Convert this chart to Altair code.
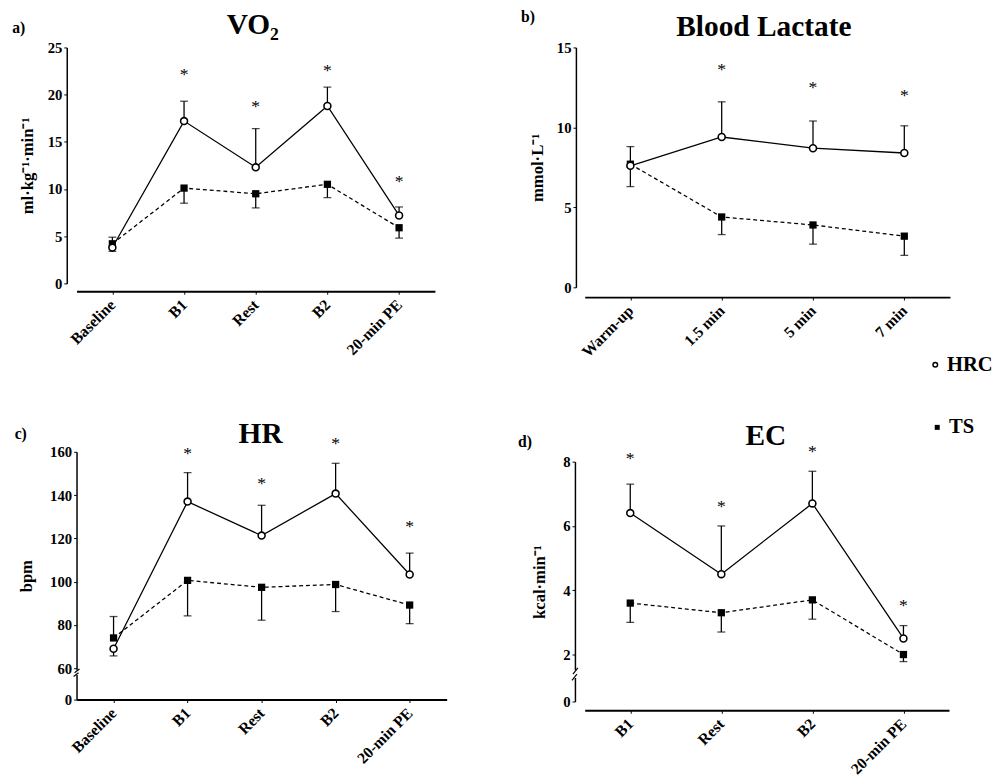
import altair as alt
import pandas as pd

SERIF = "Liberation Serif"

# ---------------- data ----------------
a_cats = ["Baseline", "B1", "Rest", "B2", "20-min PE"]
a_hrc = [3.8, 17.2, 12.3, 18.8, 7.2]
a_hrc_err = [3.4, 19.3, 16.4, 20.8, 8.1]
a_ts = [4.2, 10.1, 9.5, 10.5, 5.9]
a_ts_err = [4.9, 8.5, 8.0, 9.1, 4.8]
a_star_cats = ["B1", "Rest", "B2", "20-min PE"]
a_stars = [22.4, 19.0, 22.9, 11.1]

b_cats = ["Warm-up", "1.5 min", "5 min", "7 min"]
b_hrc = [7.6, 9.4, 8.7, 8.4]
b_hrc_err = [8.8, 11.6, 10.4, 10.1]
b_ts = [7.7, 4.4, 3.9, 3.2]
b_ts_err = [6.3, 3.3, 2.7, 2.0]
b_star_cats = ["1.5 min", "5 min", "7 min"]
b_stars = [13.8, 12.7, 12.2]

c_cats = ["Baseline", "B1", "Rest", "B2", "20-min PE"]
c_hrc = [69.0, 137.0, 121.3, 140.7, 103.3]
c_hrc_err = [65.7, 150.4, 135.3, 154.7, 113.2]
c_ts = [74.0, 100.6, 97.4, 98.7, 89.2]
c_ts_err = [83.9, 84.2, 82.2, 86.2, 80.6]
c_star_cats = ["B1", "Rest", "B2", "20-min PE"]
c_stars = [160.5, 146.5, 165.3, 127.0]

d_cats = ["B1", "Rest", "B2", "20-min PE"]
d_hrc = [6.4, 4.5, 6.7, 2.5]
d_hrc_err = [7.3, 6.0, 7.7, 2.9]
d_ts = [3.6, 3.3, 3.7, 2.0]
d_ts_err = [3.0, 2.7, 3.1, 1.7]
d_star_cats = ["B1", "Rest", "B2", "20-min PE"]
d_stars = [8.2, 6.7, 8.4, 3.6]

series_names = ["HRC", "TS"]


def make_panel(cats, hrc, hrc_err, ts, ts_err, star_cats, stars, title, title_xy,
               ytitle, ydomain, yrange, yvalues, w, h, xoff, yoff, tpad,
               tag, tag_xy, brk=None, legend=False):
    n = len(cats)
    df = pd.DataFrame({
        "cat": cats * 2,
        "series": [series_names[0]] * n + [series_names[1]] * n,
        "value": hrc + ts,
        "err": hrc_err + ts_err,
    })
    sdf = pd.DataFrame({"cat": star_cats, "star": stars})

    sk = dict(domain=ydomain, nice=False, zero=False)
    if yrange is not None:
        sk["range"] = yrange
    yscale = alt.Scale(**sk)
    yaxis = alt.Axis(title=ytitle, values=yvalues, offset=yoff, titlePadding=tpad,
                     domainWidth=1.5, tickSize=3, labelPadding=2, grid=False)
    xaxis = alt.Axis(title=None, labelAngle=-45, labelAlign="right",
                     labelBaseline="middle", offset=xoff, domainWidth=2,
                     tickSize=3, labelPadding=8, grid=False)
    X = alt.X("cat:N", sort=cats, scale=alt.Scale(type="point", padding=0.5), axis=xaxis)

    def Y(f):
        return alt.Y(f, type="quantitative", scale=yscale, axis=yaxis)

    base = alt.Chart(df)
    hrc_b = base.transform_filter(alt.datum.series == series_names[0])
    ts_b = base.transform_filter(alt.datum.series == series_names[1])

    txt = alt.Chart(pd.DataFrame({"t": [tag], "ti": [title]}))
    layers = [
        base.mark_rule(color="black", strokeWidth=1.3).encode(x=X, y=Y("value"), y2="err:Q"),
        base.mark_tick(color="black", orient="horizontal", size=8, thickness=1.3).encode(x=X, y=Y("err")),
        hrc_b.mark_line(color="black", strokeWidth=1.3).encode(x=X, y=Y("value")),
        ts_b.mark_line(color="black", strokeWidth=1.3, strokeDash=[4, 3]).encode(x=X, y=Y("value")),
        ts_b.mark_square(color="black", size=55, opacity=1).encode(x=X, y=Y("value")),
        hrc_b.mark_point(shape="circle", filled=True, fill="white", stroke="black",
                         strokeWidth=1.6, size=50, opacity=1).encode(x=X, y=Y("value")),
        alt.Chart(sdf).mark_text(text="*", font=SERIF, fontSize=18, baseline="alphabetic",
                                 dy=8.5, color="black").encode(x=X, y=Y("star")),
        txt.mark_text(font=SERIF, fontSize=16, fontWeight="bold", align="center",
                      baseline="top", color="black").encode(
            x=alt.value(tag_xy[0]), y=alt.value(tag_xy[1]), text="t:N"),
        txt.mark_text(font=SERIF, fontSize=30, fontWeight="bold", align="center",
                      baseline="alphabetic", color="black").encode(
            x=alt.value(title_xy[0]), y=alt.value(title_xy[1]), text="ti:N"),
    ]
    if brk is not None:
        ax_x, lo, hi = brk
        bd = alt.Chart(pd.DataFrame({"k": [0]}))
        layers += [
            bd.mark_rule(color="white", strokeWidth=4).encode(
                x=alt.value(ax_x), y=alt.datum(lo), y2=alt.datum(hi)),
            bd.mark_rule(color="black", strokeWidth=1.2).encode(
                x=alt.value(ax_x - 3), x2=alt.value(ax_x + 2), y=alt.datum(lo - (hi - lo) * 0.3),
                y2=alt.datum(lo + (hi - lo) * 0.5)),
            bd.mark_rule(color="black", strokeWidth=1.2).encode(
                x=alt.value(ax_x - 2), x2=alt.value(ax_x + 3), y=alt.datum(hi - (hi - lo) * 0.5),
                y2=alt.datum(hi + (hi - lo) * 0.3)),
        ]
    if legend:
        for i, (mx, my) in enumerate([(358, 324), (360, 388)]):
            ld = alt.Chart(pd.DataFrame({"s": [series_names[i]]}))
            if i == 0:
                mk = ld.mark_point(shape="circle", filled=True, fill="white", stroke="black",
                                   strokeWidth=1.5, size=22, opacity=1)
            else:
                mk = ld.mark_square(color="black", size=26, opacity=1)
            layers += [
                mk.encode(x=alt.value(mx), y=alt.value(my)),
                ld.mark_text(font=SERIF, fontSize=21, fontWeight="bold", align="left",
                             baseline="middle", color="black").encode(
                    x=alt.value(mx + 12), y=alt.value(my), text="s:N"),
            ]

    return alt.layer(*layers).properties(width=w, height=h)


pa = make_panel(a_cats, a_hrc, a_hrc_err, a_ts, a_ts_err, a_star_cats, a_stars,
                "VO₂", (180, -14), "ml·kg⁻¹·min⁻¹", [0, 25], None, [0, 5, 10, 15, 20, 25],
                366, 241, 8, 10, 11, "a)", (-59, -28))
pb = make_panel(b_cats, b_hrc, b_hrc_err, b_ts, b_ts_err, b_star_cats, b_stars,
                "Blood Lactate", (183, -12), "mmol·L⁻¹", [0, 15], None, [0, 5, 10, 15],
                373, 245, 10, 9, 10, "b)", (-58, -39.5), legend=True)
pc = make_panel(c_cats, c_hrc, c_hrc_err, c_ts, c_ts_err, c_star_cats, c_stars,
                "HR", (188, -9), "bpm", [0, 60, 160], [253, 221, 0],
                [0, 60, 80, 100, 120, 140, 160],
                378, 253, 0, 0, 15, "c)", (-57, -26), brk=(0, 47, 56))
pd_ = make_panel(d_cats, d_hrc, d_hrc_err, d_ts, d_ts_err, d_star_cats, d_stars,
                 "EC", (185, -7), "kcal·min⁻¹", [0, 2, 8], [255, 207, 10], [0, 2, 4, 6, 8],
                 372, 255, 9, 10, 15, "d)", (-61, -18), brk=(-10, 1.0, 1.33))

chart = alt.concat(
    pa, pb, pc, pd_, columns=2, bounds="flush",
    spacing={"row": 168, "column": 141},
).properties(
    padding={"left": 4, "top": -8, "right": 2, "bottom": 2}
).configure_view(stroke=None).configure_axis(
    labelFont=SERIF, labelFontWeight="bold", labelFontSize=15, labelColor="black",
    titleFont=SERIF, titleFontWeight="bold", titleFontSize=17, titleColor="black",
    domainColor="black", tickColor="black",
).configure_axisX(labelFontSize=16)

chart.save("out.html", embed_options={"renderer": "svg", "actions": False})
